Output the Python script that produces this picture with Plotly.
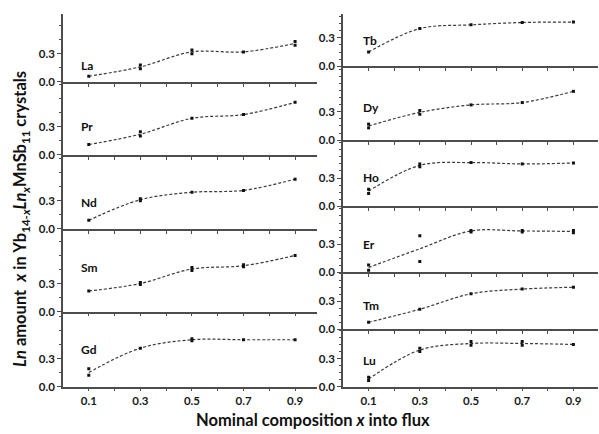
import plotly.graph_objects as go

W, H = 599, 434

# ---------------- data ----------------
nominal = [0.1, 0.3, 0.5, 0.7, 0.9]
x_tick_vals = [0.1, 0.3, 0.5, 0.7, 0.9]
x_tick_text = ["0.1", "0.3", "0.5", "0.7", "0.9"]
x_minor_vals = [0.2, 0.4, 0.6, 0.8]
y_tick_vals = [0.0, 0.3]
y_tick_text = ["0.0", "0.3"]

elements = ["La", "Pr", "Nd", "Sm", "Gd", "Tb", "Dy", "Ho", "Er", "Tm", "Lu"]

# measured crystals (x nominal, Ln amount)
la_x = [0.1, 0.3, 0.3, 0.5, 0.5, 0.7, 0.9, 0.9]
la_y = [0.06, 0.18, 0.14, 0.34, 0.30, 0.32, 0.43, 0.39]
pr_x = [0.1, 0.3, 0.3, 0.5, 0.7, 0.9]
pr_y = [0.11, 0.245, 0.20, 0.39, 0.43, 0.56]
nd_x = [0.1, 0.3, 0.3, 0.5, 0.7, 0.9]
nd_y = [0.09, 0.32, 0.30, 0.39, 0.41, 0.53]
sm_x = [0.1, 0.3, 0.3, 0.5, 0.5, 0.7, 0.7, 0.9]
sm_y = [0.22, 0.31, 0.29, 0.47, 0.44, 0.50, 0.48, 0.60]
gd_x = [0.1, 0.1, 0.3, 0.5, 0.5, 0.7, 0.9]
gd_y = [0.19, 0.12, 0.41, 0.51, 0.49, 0.50, 0.50]
tb_x = [0.1, 0.3, 0.5, 0.7, 0.9]
tb_y = [0.15, 0.40, 0.44, 0.465, 0.47]
dy_x = [0.1, 0.1, 0.3, 0.3, 0.5, 0.7, 0.9]
dy_y = [0.17, 0.13, 0.315, 0.275, 0.375, 0.40, 0.52]
ho_x = [0.1, 0.1, 0.3, 0.3, 0.5, 0.7, 0.9]
ho_y = [0.18, 0.135, 0.45, 0.42, 0.465, 0.45, 0.46]
er_x = [0.1, 0.1, 0.3, 0.3, 0.5, 0.5, 0.7, 0.7, 0.9, 0.9]
er_y = [0.076, 0.02, 0.39, 0.115, 0.445, 0.43, 0.445, 0.43, 0.445, 0.42]
tm_x = [0.1, 0.3, 0.5, 0.7, 0.9]
tm_y = [0.076, 0.215, 0.38, 0.43, 0.45]
lu_x = [0.1, 0.1, 0.3, 0.3, 0.5, 0.5, 0.7, 0.7, 0.9]
lu_y = [0.10, 0.065, 0.41, 0.375, 0.48, 0.44, 0.48, 0.44, 0.45]

# dashed guide curves (values at nominal compositions)
la_fit = [0.06, 0.16, 0.32, 0.32, 0.41]
pr_fit = [0.11, 0.22, 0.39, 0.43, 0.56]
nd_fit = [0.09, 0.31, 0.39, 0.41, 0.53]
sm_fit = [0.22, 0.30, 0.455, 0.49, 0.60]
gd_fit = [0.15, 0.41, 0.50, 0.50, 0.50]
tb_fit = [0.15, 0.40, 0.44, 0.465, 0.47]
dy_fit = [0.15, 0.295, 0.375, 0.40, 0.52]
ho_fit = [0.16, 0.435, 0.465, 0.45, 0.46]
er_fit = [0.05, 0.25, 0.44, 0.44, 0.435]
tm_fit = [0.076, 0.215, 0.38, 0.43, 0.45]
lu_fit = [0.08, 0.39, 0.46, 0.46, 0.45]

points_x = [la_x, pr_x, nd_x, sm_x, gd_x, tb_x, dy_x, ho_x, er_x, tm_x, lu_x]
points_y = [la_y, pr_y, nd_y, sm_y, gd_y, tb_y, dy_y, ho_y, er_y, tm_y, lu_y]
fits = [la_fit, pr_fit, nd_fit, sm_fit, gd_fit, tb_fit, dy_fit, ho_fit, er_fit, tm_fit, lu_fit]

# ---------------- layout (pixels) ----------------
# (column, top px, bottom px, label y)
panels = [
    (0, 14, 83, 0.17), (0, 83, 157, 0.30), (0, 157, 232, 0.28),
    (0, 232, 316, 0.47), (0, 316, 392, 0.40),
    (1, 14, 67, 0.27), (1, 67, 142, 0.35), (1, 142, 209, 0.31),
    (1, 209, 276, 0.30), (1, 276, 334, 0.26), (1, 334, 392, 0.28),
]
cols = {
    0: dict(px=(63, 317), xr=(0, 0.985), lab_x=0.062, minor=0.15),
    1: dict(px=(343, 598), xr=(0, 0.996), lab_x=0.072, minor=0.075),
}
PX_PER_UNIT = 95.0
bottoms = {0: 392, 1: 392}

AX = "#4d4d4d"
FONT = "Lato"

fig = go.Figure()
layout = dict(
    width=W, height=H, margin=dict(l=0, r=0, t=0, b=0),
    paper_bgcolor="white", plot_bgcolor="rgba(0,0,0,0)",
    showlegend=False, font=dict(family=FONT, color="#1a1a1a"),
)
annotations = []

for i, name in enumerate(elements):
    n = i + 1
    col, top, bot, laby = panels[i]
    c = cols[col]
    xs = "" if n == 1 else str(n)
    ymax = (bot - top) / PX_PER_UNIT
    is_bottom = bot == bottoms[col]

    fig.add_trace(go.Scatter(
        x=nominal, y=fits[i], mode="lines",
        line=dict(color="#3a3a3a", width=1.2, dash="3px,2px", shape="spline", smoothing=1.0),
        xaxis="x" + xs, yaxis="y" + xs, hoverinfo="skip",
    ))
    fig.add_trace(go.Scatter(
        x=points_x[i], y=points_y[i], mode="markers",
        marker=dict(symbol="square", size=3, color="#111111"),
        xaxis="x" + xs, yaxis="y" + xs,
    ))

    minor_vals = []
    v = c["minor"]
    while v < ymax + 1e-6:
        if all(abs(v - t) > 1e-6 for t in y_tick_vals):
            minor_vals.append(round(v, 4))
        v += c["minor"]

    layout["xaxis" + xs] = dict(
        domain=[c["px"][0] / W, c["px"][1] / W], range=list(c["xr"]),
        anchor="y" + xs, showline=True, linecolor=AX, linewidth=1.6,
        ticks="outside", ticklen=3, tickwidth=1.2, tickcolor=AX,
        tickmode="array", tickvals=x_tick_vals, ticktext=x_tick_text,
        minor=dict(tickmode="array", tickvals=x_minor_vals, ticks="outside",
                   ticklen=3, tickwidth=1.2, tickcolor=AX, showgrid=False),
        showticklabels=is_bottom,
        showgrid=False, zeroline=False,
        tickfont=dict(size=11.5, family=FONT, weight="bold", color="#1a1a1a"),
    )
    layout["yaxis" + xs] = dict(
        domain=[1 - bot / H, 1 - top / H], range=[0, ymax],
        anchor="x" + xs, showline=True, linecolor=AX, linewidth=1.6,
        ticks="outside", ticklen=4, tickwidth=1.2, tickcolor=AX,
        tickmode="array", tickvals=y_tick_vals, ticktext=y_tick_text,
        minor=dict(tickmode="array", tickvals=minor_vals, ticks="outside",
                   ticklen=2.5, tickwidth=1.2, tickcolor=AX, showgrid=False),
        showgrid=False, zeroline=False,
        tickfont=dict(size=11.5, family=FONT, weight="bold", color="#1a1a1a"),
    )
    annotations.append(dict(
        text=name, xref="x" + xs, yref="y" + xs, x=c["lab_x"], y=laby,
        xanchor="left", yanchor="middle", showarrow=False,
        font=dict(size=12, family=FONT, weight="bold", color="#111111"),
    ))

annotations.append(dict(
    text="<i>Ln</i> amount  <i>x</i> in Yb<sub>14-<i>x</i></sub><i>Ln</i><sub><i>x</i></sub>MnSb<sub>11</sub> crystals",
    xref="paper", yref="paper", x=21 / W, y=1 - 222 / H, textangle=-90,
    xanchor="center", yanchor="middle", showarrow=False,
    font=dict(size=16.5, family=FONT, weight="bold", color="#111111"),
))
annotations.append(dict(
    text="Nominal composition <i>x</i> into flux",
    xref="paper", yref="paper", x=313 / W, y=1 - 426 / H,
    xanchor="center", yanchor="middle", showarrow=False,
    font=dict(size=16.5, family=FONT, weight="bold", color="#111111"),
))
layout["annotations"] = annotations
fig.update_layout(**layout)
fig.write_html("out.html")
